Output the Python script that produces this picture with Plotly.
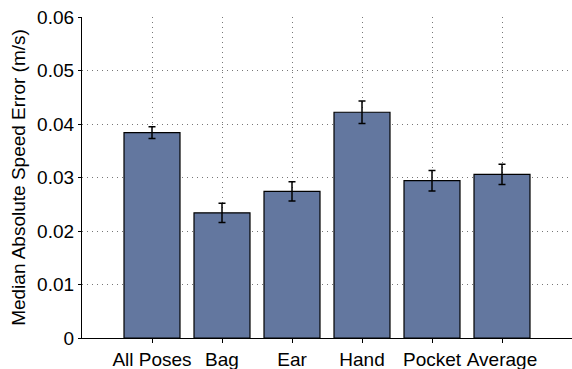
import plotly.graph_objects as go

categories = ["All Poses", "Bag", "Ear", "Hand", "Pocket", "Average"]
median_error = [0.0384, 0.0234, 0.0274, 0.0422, 0.0294, 0.0306]
error_half = [0.0011, 0.0018, 0.0018, 0.0021, 0.0019, 0.0019]
y_ticks = [0, 0.01, 0.02, 0.03, 0.04, 0.05, 0.06]
y_tick_text = ["0", "0.01", "0.02", "0.03", "0.04", "0.05", "0.06"]

x_pos = list(range(len(categories)))

fig = go.Figure(
    go.Bar(
        x=x_pos,
        y=median_error,
        width=0.8,
        marker=dict(color="#63779f", line=dict(color="black", width=1.2)),
        error_y=dict(type="data", array=error_half, visible=True,
                     color="black", thickness=1.5, width=3.5),
    )
)

font_family = "Liberation Sans, Arial, sans-serif"
grid_style = dict(showgrid=True, gridcolor="#777777", griddash="1px,4px", gridwidth=1.2)

fig.update_layout(
    width=572,
    height=369,
    margin=dict(l=82, r=0, t=17, b=31),
    paper_bgcolor="white",
    plot_bgcolor="white",
    showlegend=False,
    font=dict(family=font_family, size=19, color="black"),
    xaxis=dict(
        range=[-1, 6],
        tickmode="array",
        tickvals=x_pos,
        ticktext=categories,
        showline=True,
        linecolor="black",
        linewidth=1.2,
        ticks="outside",
        ticklen=4,
        tickcolor="black",
        zeroline=False,
        tickfont=dict(size=19),
        **grid_style,
    ),
    yaxis=dict(
        range=[0, 0.06],
        tickmode="array",
        tickvals=y_ticks,
        ticktext=y_tick_text,
        showline=True,
        linecolor="black",
        linewidth=1.2,
        ticks="outside",
        ticklen=3,
        tickcolor="black",
        zeroline=False,
        tickfont=dict(size=19),
        title=dict(text="Median Absolute Speed Error (m/s)", font=dict(size=19), standoff=6),
        **grid_style,
    ),
)

fig.write_html("out.html")
